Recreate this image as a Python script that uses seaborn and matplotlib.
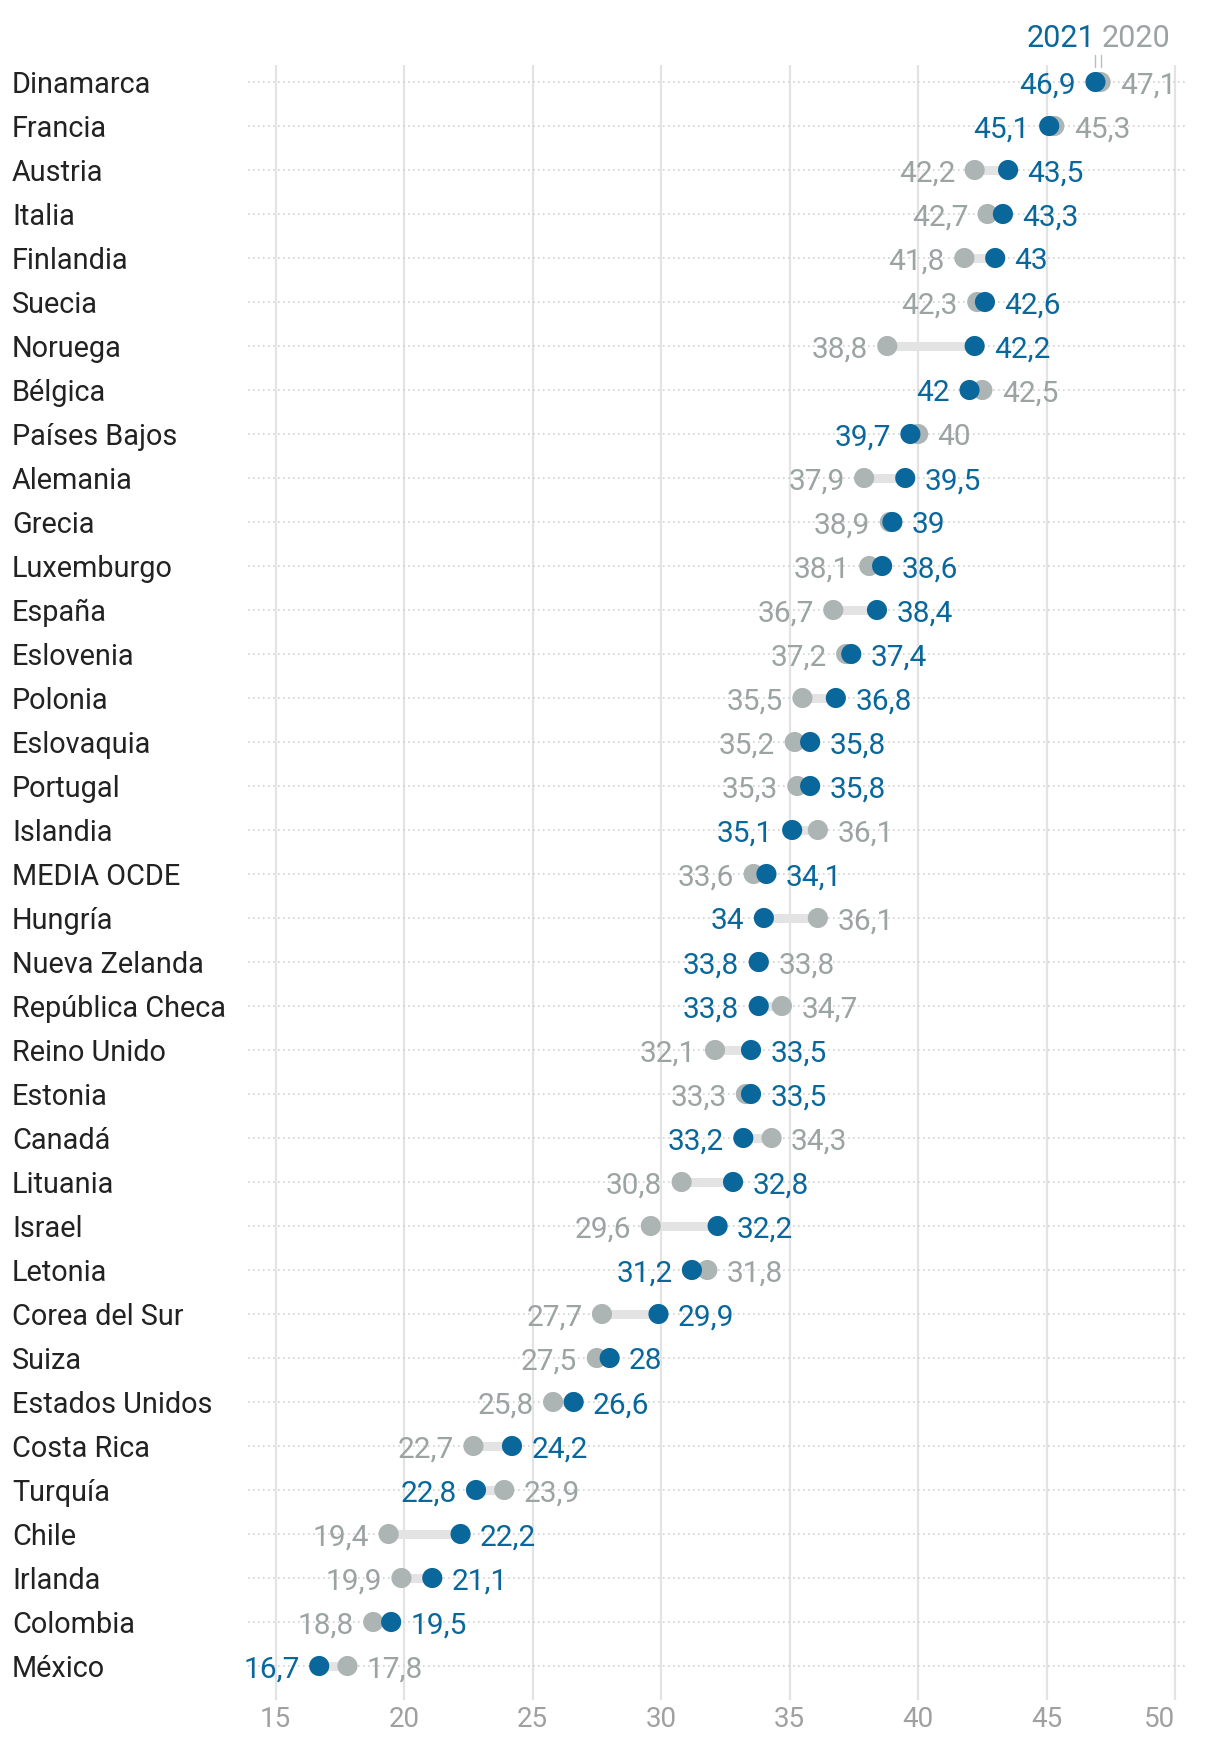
import matplotlib
matplotlib.use("Agg")
import matplotlib.pyplot as plt
import seaborn as sns
import pandas as pd
import numpy as np

countries = ["Dinamarca", "Francia", "Austria", "Italia", "Finlandia", "Suecia", "Noruega",
             "Bélgica", "Países Bajos", "Alemania", "Grecia", "Luxemburgo", "España",
             "Eslovenia", "Polonia", "Eslovaquia", "Portugal", "Islandia", "MEDIA OCDE",
             "Hungría", "Nueva Zelanda", "República Checa", "Reino Unido", "Estonia",
             "Canadá", "Lituania", "Israel", "Letonia", "Corea del Sur", "Suiza",
             "Estados Unidos", "Costa Rica", "Turquía", "Chile", "Irlanda", "Colombia", "México"]
v2021 = [46.9, 45.1, 43.5, 43.3, 43.0, 42.6, 42.2, 42.0, 39.7, 39.5, 39.0, 38.6, 38.4,
         37.4, 36.8, 35.8, 35.8, 35.1, 34.1, 34.0, 33.8, 33.8, 33.5, 33.5, 33.2, 32.8,
         32.2, 31.2, 29.9, 28.0, 26.6, 24.2, 22.8, 22.2, 21.1, 19.5, 16.7]
v2020 = [47.1, 45.3, 42.2, 42.7, 41.8, 42.3, 38.8, 42.5, 40.0, 37.9, 38.9, 38.1, 36.7,
         37.2, 35.5, 35.2, 35.3, 36.1, 33.6, 36.1, 33.8, 34.7, 32.1, 33.3, 34.3, 30.8,
         29.6, 31.8, 27.7, 27.5, 25.8, 22.7, 23.9, 19.4, 19.9, 18.8, 17.8]
xticks = [15, 20, 25, 30, 35, 40, 45, 50]
years = ["2020", "2021"]

BLUE = "#0a679b"
GRAY_DOT = "#adb4b4"
GRAY_TXT = "#9ca3a3"
CONNECT = "#e3e3e3"

sns.set_style("white")
plt.rcParams["font.family"] = ["Roboto", "DejaVu Sans"]

n = len(countries)
pos = np.arange(n)
df = pd.DataFrame({
    "country": countries * 2,
    "pos": np.concatenate([pos, pos]),
    "value": v2020 + v2021,
    "year": ["2020"] * n + ["2021"] * n,
})

fig = plt.figure(figsize=(12.2, 17.44), dpi=100)
ax = fig.add_axes([248 / 1220, 1 - 1700 / 1744, (1188 - 248) / 1220, (1700 - 65) / 1744])

xmin, xmax = 13.93, 50.5
ax.set_xlim(xmin, xmax)
ax.set_ylim(n - 1 + 34 / 44, -17 / 44)

# gridlines
for xt in xticks:
    ax.axvline(xt, color="#e3e3e3", lw=1.6, zorder=0)
for p in pos:
    ax.axhline(p, color="#d2d2d2", lw=1.2, ls=(0, (1, 2)), zorder=0)

# connectors
ax.hlines(pos, v2020, v2021, color=CONNECT, lw=6.5, zorder=1)

sns.scatterplot(data=df, x="value", y="pos", hue="year", hue_order=years,
                palette={"2020": GRAY_DOT, "2021": BLUE}, s=210, linewidth=0,
                legend=False, zorder=3, ax=ax)


def fmt(v):
    if abs(v - round(v)) < 1e-9:
        return str(int(round(v)))
    return f"{v:.1f}".replace(".", ",")


fs_num = 21.5
fs_name = 20.8
for i in range(n):
    b, g = v2021[i], v2020[i]
    if b <= g:
        left = (b, BLUE)
        right = (g, GRAY_TXT)
    else:
        left = (g, GRAY_TXT)
        right = (b, BLUE)
    ax.annotate(fmt(left[0]), (left[0], i), xytext=(-14.0, -2.4), textcoords="offset points",
                ha="right", va="center", color=left[1], fontsize=fs_num, zorder=4)
    ax.annotate(fmt(right[0]), (right[0], i), xytext=(14.0, -2.4), textcoords="offset points",
                ha="left", va="center", color=right[1], fontsize=fs_num, zorder=4)

# legend at top
ax.text(v2021[0], -0.99, "2021", ha="right", va="center", color=BLUE, fontsize=22, clip_on=False)
ax.text(v2020[0] + 0.05, -0.99, "2020", ha="left", va="center", color=GRAY_TXT, fontsize=22, clip_on=False)
ax.plot([v2021[0], v2021[0]], [-0.61, -0.33], color="#b8bdbd", lw=1.0, clip_on=False)
ax.plot([v2020[0], v2020[0]], [-0.61, -0.33], color="#b8bdbd", lw=1.0, clip_on=False)

# axes
ax.set_xticks(xticks)
ax.set_xticklabels([str(t) for t in xticks])
ax.tick_params(axis="x", length=0, pad=4, labelsize=20, labelcolor="#a0a0a0")
ax.get_xticklabels()[-1].set_ha("right")
ax.set_yticks(pos)
ax.set_yticklabels(countries)
ax.tick_params(axis="y", length=0, pad=(248 - 12) / 1.389, labelsize=fs_name, labelcolor="#222222")
for lab in ax.get_yticklabels():
    lab.set_ha("left")
ax.set_xlabel("")
ax.set_ylabel("")
for sp in ax.spines.values():
    sp.set_visible(False)
ax.grid(False)

fig.savefig("out.png", dpi=100, facecolor="white")
